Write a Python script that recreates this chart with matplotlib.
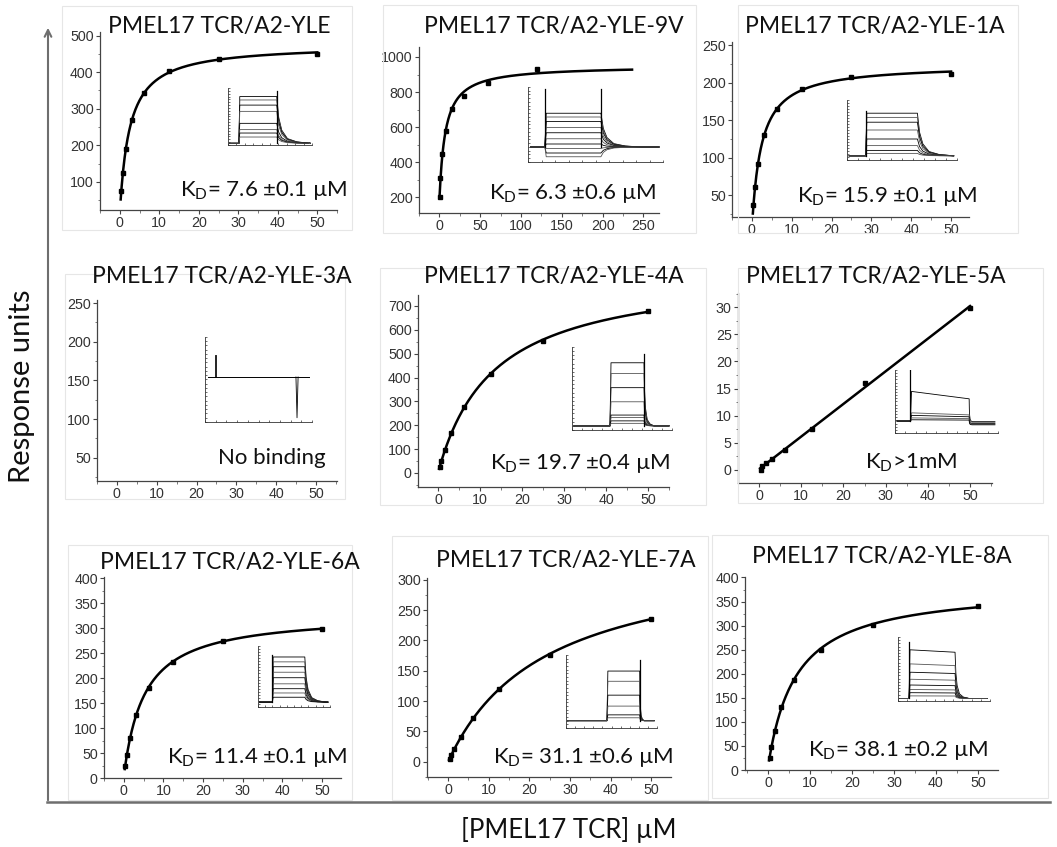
import numpy as np
import matplotlib.pyplot as plt
from matplotlib.lines import Line2D
from matplotlib.patches import FancyArrowPatch, Rectangle
from matplotlib.ticker import MultipleLocator, AutoMinorLocator

plt.rcParams['font.family'] = ['Liberation Sans', 'DejaVu Sans']
plt.rcParams['mathtext.fontset'] = 'custom'
plt.rcParams['mathtext.rm'] = 'Lato'

W, H = 1057, 847

# TCR concentrations (uM) and equilibrium responses (RU)
conc = [0.39, 0.78, 1.56, 3.125, 6.25, 12.5, 25, 50]
conc_9v = [0.47, 0.94, 3.75, 7.5, 15, 30, 60, 120]

ru_yle = [74, 125, 191, 270, 343, 402, 437, 451]
ru_9v = [200, 308, 445, 578, 706, 778, 854, 934]
ru_1a = [37, 61, 92, 130, 165, 192, 207, 212]
ru_3a = []
ru_4a = [25, 49, 95, 167, 276, 416, 555, 678]
ru_5a = [0.0, 0.7, 1.3, 2.0, 3.7, 7.5, 16.1, 29.8]
ru_6a = [25, 47, 80, 127, 180, 232, 274, 299]
ru_7a = [5, 11, 21, 41, 73, 120, 176, 236]
ru_8a = [25, 47, 81, 130, 188, 250, 301, 341]

titles = ['PMEL17 TCR/A2-YLE', 'PMEL17 TCR/A2-YLE-9V', 'PMEL17 TCR/A2-YLE-1A',
          'PMEL17 TCR/A2-YLE-3A', 'PMEL17 TCR/A2-YLE-4A', 'PMEL17 TCR/A2-YLE-5A',
          'PMEL17 TCR/A2-YLE-6A', 'PMEL17 TCR/A2-YLE-7A', 'PMEL17 TCR/A2-YLE-8A']
kd_labels = [r'K$_\mathrm{D}$= 7.6 ±0.1 µM', r'K$_\mathrm{D}$= 6.3 ±0.6 µM',
             r'K$_\mathrm{D}$= 15.9 ±0.1 µM', 'No binding',
             r'K$_\mathrm{D}$= 19.7 ±0.4 µM', r'K$_\mathrm{D}$>1mM',
             r'K$_\mathrm{D}$= 11.4 ±0.1 µM', r'K$_\mathrm{D}$= 31.1 ±0.6 µM',
             r'K$_\mathrm{D}$= 38.1 ±0.2 µM']

# sensorgram plateau levels for the insets (fraction of inset height)
lev_yle = [0.85, 0.79, 0.70, 0.59, 0.38, 0.27, 0.21, 0.14]
lev_9v = [0.65, 0.60, 0.54, 0.46, 0.39, 0.31, 0.24, 0.18, 0.12, 0.07]
lev_1a = [0.78, 0.71, 0.63, 0.50, 0.35, 0.24, 0.16, 0.11]
lev_4a = [0.81, 0.68, 0.51, 0.34, 0.18, 0.15, 0.11, 0.08]
lev_5a = [0.66, 0.32, 0.28, 0.24, 0.21]
lev_6a = [0.82, 0.74, 0.66, 0.57, 0.48, 0.38, 0.30, 0.23, 0.16]
lev_7a = [0.78, 0.64, 0.45, 0.30, 0.18, 0.14]
lev_8a = [0.80, 0.58, 0.45, 0.34, 0.25, 0.18, 0.13, 0.08]

series = [(conc, ru_yle), (conc_9v, ru_9v), (conc, ru_1a), (conc, ru_3a),
          (conc, ru_4a), (conc, ru_5a), (conc, ru_6a), (conc, ru_7a), (conc, ru_8a)]

# axes boxes in pixels: left, top, right, bottom
boxes = [(100, 32, 337, 210), (419, 47, 659, 213), (732, 42, 969, 217),
         (97, 300, 337, 481), (418, 295, 669, 487), (738, 293, 992, 483),
         (104, 577, 341, 778), (427, 578, 671, 777), (745, 577, 998, 770)]
xlims = [(-5, 55), (-25, 269), (-5, 54.5), (-5, 55.3), (-4.8, 55),
         (-5, 55.2), (-5, 54.8), (-5.2, 54.9), (-5.5, 54.8)]
ylims = [(23, 510), (110, 1057), (21, 254), (20, 254), (-59, 746),
         (-2.4, 32.6), (0, 402), (-25, 303), (0, 401)]
ysteps = [100, 200, 50, 50, 100, 5, 50, 50, 50]
xsteps = [10, 50, 10, 10, 10, 10, 10, 10, 10]
curve_end = [50, 236, 50, 50, 50, 50, 50, 50, 50]
title_xy = [(219, 27), (554, 27), (875, 27), (222, 277), (554, 276),
            (876, 276), (230, 562), (566, 560), (882, 557)]
kd_xy = [(180, 190), (489, 193), (797, 197), (218, 458), (490, 463),
         (865, 463), (167, 757), (493, 757), (808, 750)]
inset_boxes = [(228, 88, 312, 145), (528, 87, 663, 162), (847, 100, 957, 160),
               (205, 337, 312, 422), (572, 347, 672, 430), (895, 370, 998, 433),
               (258, 646, 330, 707), (566, 655, 657, 728), (898, 637, 990, 701)]
frames = [(62, 6, 352, 230), (383, 5, 696, 233), (738, 5, 1018, 233),
          (65, 274, 345, 499), (380, 268, 706, 505), (738, 268, 1043, 503),
          (68, 545, 352, 800), (392, 536, 708, 800), (712, 535, 1048, 798)]


def rect(l, t, r, b):
    return [l / W, 1 - b / H, (r - l) / W, (b - t) / H]


def fxy(x, y):
    return x / W, 1 - y / H


def fit_hyperbola(x, y):
    best = None
    for k in np.logspace(-1.5, 3, 600):
        basis = np.column_stack([x / (k + x), np.ones_like(x)])
        coef = np.linalg.lstsq(basis, y, rcond=None)[0]
        err = np.sum((basis @ coef - y) ** 2)
        if best is None or err < best[0]:
            best = (err, k, coef)
    return best[1], best[2]


def sensorgram(ax, levels, t_on, t_off, base, spike_on=None, spike_off=None,
               decay=0.25, drift=0.0, post=None):
    shape_t = np.array([0, 0.06, 0.15, 0.32, 0.6, 1.0])
    shape_f = np.array([1, 0.55, 0.28, 0.1, 0.03, 0])
    for i, lv in enumerate(levels):
        col = 'black' if i % 2 == 0 else '#555555'
        end = post[i] if post is not None else base
        tt = [0.02, t_on, t_on + 0.01, t_off]
        yy = [base, base, lv, lv - drift * (lv - base)]
        top = yy[-1]
        tt += list(t_off + shape_t * decay)
        yy += list(end + (top - end) * shape_f)
        tt.append(0.97)
        yy.append(end)
        ax.plot(tt, yy, color=col, lw=0.6)
    if spike_on:
        ax.plot([t_on, t_on], [base, spike_on], color='black', lw=0.9)
    if spike_off:
        ax.plot([t_off, t_off], [base, spike_off], color='black', lw=0.9)


fig = plt.figure(figsize=(W / 100, H / 100), dpi=100)

for fr in frames:
    l, t, r, b = fr
    fig.add_artist(Rectangle(fxy(l, b), (r - l) / W, (b - t) / H,
                             transform=fig.transFigure, fill=False,
                             ec='#e6e6e6', lw=0.8))

for i in range(9):
    ax = fig.add_axes(rect(*boxes[i]))
    x = np.array(series[i][0], dtype=float)
    y = np.array(series[i][1], dtype=float)
    if len(y):
        xs = np.linspace(x[0] * 0.6, curve_end[i], 400)
        if i == 5:
            slope, icpt = np.polyfit(x, y, 1)
            ax.plot(xs, slope * xs + icpt, color='black', lw=1.8)
        else:
            k, (bmax, c) = fit_hyperbola(x, y)
            ax.plot(xs, bmax * xs / (k + xs) + c, color='black', lw=1.8)
        ax.plot(x, y, 's', color='black', ms=3.2)
    ax.set_xlim(*xlims[i])
    ax.set_ylim(*ylims[i])
    ax.xaxis.set_major_locator(MultipleLocator(xsteps[i]))
    ax.yaxis.set_major_locator(MultipleLocator(ysteps[i]))
    ax.xaxis.set_minor_locator(AutoMinorLocator(2))
    ax.yaxis.set_minor_locator(AutoMinorLocator(2))
    ax.set_xticks([v for v in ax.get_xticks() if 0 <= v <= curve_end[i] + 15])
    yt = [v for v in ax.get_yticks() if ylims[i][0] <= v <= ylims[i][1]]
    ax.set_yticks(yt)
    ax.set_xlim(*xlims[i])
    ax.set_ylim(*ylims[i])
    for s in ['top', 'right']:
        ax.spines[s].set_visible(False)
    for s in ['left', 'bottom']:
        ax.spines[s].set_color('#444444')
        ax.spines[s].set_linewidth(0.9)
    ax.tick_params(which='major', direction='out', length=3, width=0.8,
                   color='#444444', labelsize=10.3, labelcolor='#333333', pad=1.5)
    ax.tick_params(which='minor', direction='out', length=1.8, width=0.6,
                   color='#666666')
    ax.patch.set_alpha(0)

    fig.text(*fxy(*title_xy[i]), titles[i], family='Lato', fontsize=16.5,
             ha='center', va='center', color='#111111')
    fig.text(*fxy(*kd_xy[i]), kd_labels[i], family='Lato', fontsize=16,
             ha='left', va='center', color='#111111')

    ins = fig.add_axes(rect(*inset_boxes[i]))
    ins.set_xlim(0, 1)
    ins.set_ylim(0, 1)
    ins.patch.set_alpha(0)
    for s in ['top', 'right']:
        ins.spines[s].set_visible(False)
    for s in ['left', 'bottom']:
        ins.spines[s].set_linewidth(0.6)
        ins.spines[s].set_color('#333333')
    ins.xaxis.set_major_locator(MultipleLocator(0.1))
    ins.yaxis.set_major_locator(MultipleLocator(0.1))
    ins.yaxis.set_minor_locator(MultipleLocator(0.05))
    ins.tick_params(which='both', direction='in', length=1.5, width=0.5,
                    labelleft=False, labelbottom=False, color='#333333')

    if i == 0:
        sensorgram(ins, lev_yle, 0.13, 0.58, 0.03, spike_off=0.94, decay=0.4)
    elif i == 1:
        sensorgram(ins, lev_9v, 0.125, 0.54, 0.2, spike_on=0.98,
                   spike_off=0.98, decay=0.3)
    elif i == 2:
        sensorgram(ins, lev_1a, 0.17, 0.64, 0.07, spike_on=0.82, decay=0.33)
    elif i == 3:
        ins.plot([0.03, 0.97], [0.53, 0.53], color='black', lw=0.7)
        ins.plot([0.09, 0.09, 0.1, 0.1], [0.53, 0.79, 0.79, 0.53],
                 color='black', lw=0.6)
        ins.plot([0.85, 0.86, 0.87], [0.53, 0.05, 0.53], color='black', lw=0.6)
    elif i == 4:
        sensorgram(ins, lev_4a, 0.38, 0.72, 0.05, spike_off=0.92, decay=0.1)
    elif i == 5:
        sensorgram(ins, lev_5a, 0.15, 0.72, 0.19, spike_on=1.0, drift=0.25,
                   decay=0.03, post=[0.18, 0.17, 0.15, 0.14, 0.13])
    elif i == 6:
        sensorgram(ins, lev_6a, 0.2, 0.65, 0.08, spike_on=0.85, decay=0.3)
    elif i == 7:
        sensorgram(ins, lev_7a, 0.45, 0.81, 0.1, spike_off=0.93, decay=0.05)
    else:
        sensorgram(ins, lev_8a, 0.12, 0.62, 0.04, spike_on=0.92, drift=0.05,
                   decay=0.15)

# shared axis arrows and labels
fig.add_artist(FancyArrowPatch(fxy(48, 803), fxy(48, 25), transform=fig.transFigure,
                               arrowstyle='->', mutation_scale=12, color='#6e6e6e',
                               lw=1.5))
fig.add_artist(Line2D([47 / W, 1050 / W], [1 - 802 / H, 1 - 802 / H],
                      transform=fig.transFigure, color='#6e6e6e', lw=1.8))
fig.text(*fxy(22, 386), 'Response units', family='Lato', fontsize=21,
         rotation=90, ha='center', va='center', color='#111111')
fig.text(*fxy(569, 830), '[PMEL17 TCR] µM', family='Lato', fontsize=18.5,
         ha='center', va='center', color='#111111')

fig.savefig('out.png', dpi=100, facecolor='white')
